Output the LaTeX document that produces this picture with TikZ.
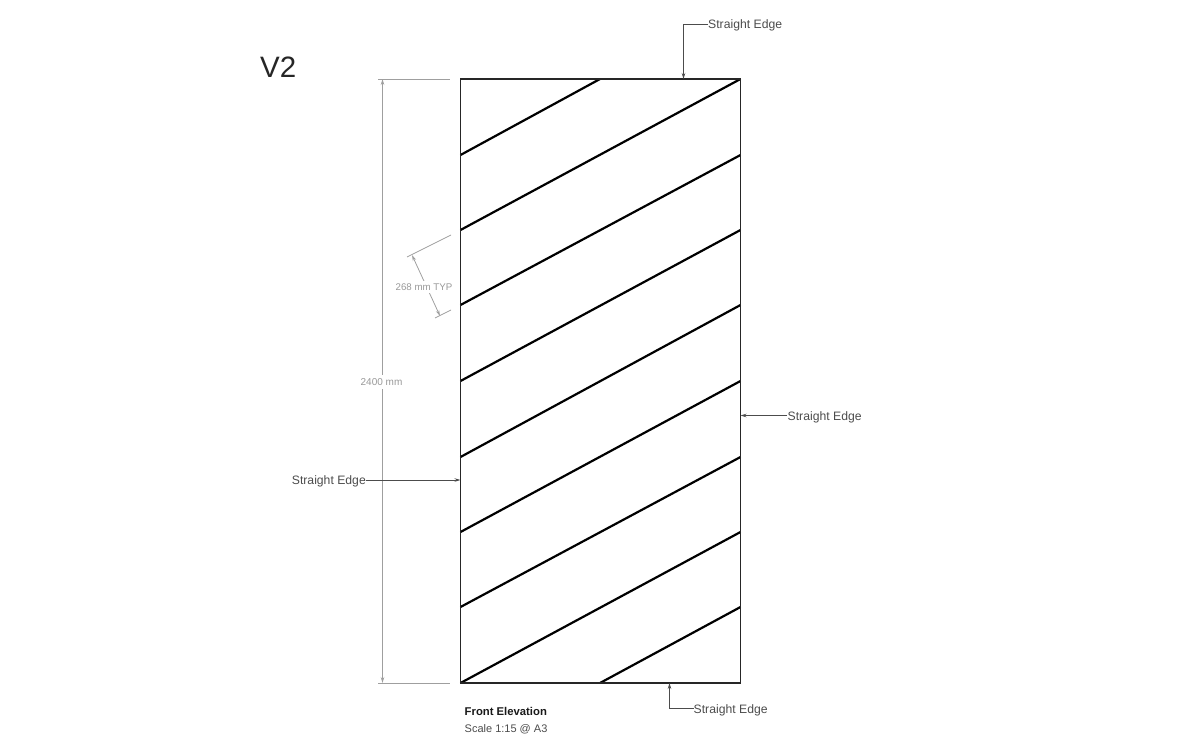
\documentclass[tikz,border=0pt]{standalone}
\usepackage{fontspec}
\usetikzlibrary{arrows.meta}
\setmainfont{Liberation Sans}
\tikzset{
  panel/.style={line width=1.3pt,black!85},
  board/.style={line width=2.2pt,black},
  dimline/.style={line width=0.8pt,gray!75},
  leader/.style={line width=0.8pt,black!70},
  note/.style={text=black!70,font=\fontsize{12.2}{14}\selectfont,inner sep=0pt},
  dimnote/.style={text=gray!80,inner xsep=0pt,inner ysep=3pt,fill=white}
}
\begin{document}
\begin{tikzpicture}[x=1pt,y=-1pt,>={Stealth[length=6pt,width=3.5pt]}]
  \useasboundingbox (0,0) rectangle (1200,750);
  % panel outline
  \coordinate (tl) at (460.5,79);
  \coordinate (tr) at (740.5,79);
  \coordinate (br) at (740.5,683);
  \coordinate (bl) at (460.5,683);
  % diagonal boards
  \foreach \ya/\yb in {79/230,155/305,230/381,305/457,381/532,457/607,532/683}
    \draw[board] (740.5,\ya)--(460.5,\yb);
  \draw[board] (600,79)--(460.5,155);
  \draw[board] (740.5,607)--(600,683);
  \draw[panel] (tl)--(tr)--(br)--(bl)--cycle;
  % overall height
  \coordinate (hta) at (378,79);
  \coordinate (htb) at (450,79);
  \coordinate (hba) at (378,683);
  \coordinate (hbb) at (450,683);
  \coordinate (hu) at (382.5,79);
  \coordinate (hd) at (382.5,683);
  \draw[dimline] (hta)--(htb);
  \draw[dimline] (hba)--(hbb);
  \draw[dimline,<->] (hu)--(hd);
  \node[dimnote,font=\fontsize{10}{12}\selectfont] (height) at (381.5,382) {2400 mm};
  % board width
  \coordinate (wa) at (407,257);
  \coordinate (wb) at (451,235);
  \coordinate (wc) at (435,318);
  \coordinate (wd) at (451,310);
  \coordinate (we) at (412,255);
  \coordinate (wf) at (440,316);
  \draw[dimline] (wa)--(wb);
  \draw[dimline] (wc)--(wd);
  \draw[dimline,<->] (we)--(wf);
  \node[dimnote,font=\fontsize{9.7}{11}\selectfont] (width) at (424,287) {268 mm TYP};
  % straight edge notes
  \node[note,anchor=west] (top) at (708,25) {Straight Edge};
  \node[note,anchor=west] (right) at (787.5,417.5) {Straight Edge};
  \node[note,anchor=east] (left) at (366,481) {Straight Edge};
  \node[note,anchor=west] (bottom) at (693.5,710) {Straight Edge};
  \coordinate (ptop) at (683.5,79);
  \coordinate (pright) at (740.5,415.5);
  \coordinate (pleft) at (460.5,480);
  \coordinate (pbottom) at (669.5,683);
  \draw[leader,->] (708,24)-|(ptop);
  \draw[leader,->] (787,415.5)--(pright);
  \draw[leader,->] (366,480)--(pleft);
  \draw[leader,->] (693.5,708)-|(pbottom);
  % titles
  \node[anchor=west,inner sep=0pt,font=\fontsize{11.3}{14}\selectfont\bfseries,text=black!90] (title) at (464.5,711.5) {Front Elevation};
  \node[anchor=west,inner sep=0pt,text=black!70,font=\fontsize{11}{14}\selectfont] (scale) at (464.5,729) {Scale 1:15 @ A3};
  \node[anchor=west,inner sep=0pt,font=\fontsize{29.5}{32}\selectfont,text=black!85] (version) at (260,67.5) {V2};
\end{tikzpicture}
\end{document}
